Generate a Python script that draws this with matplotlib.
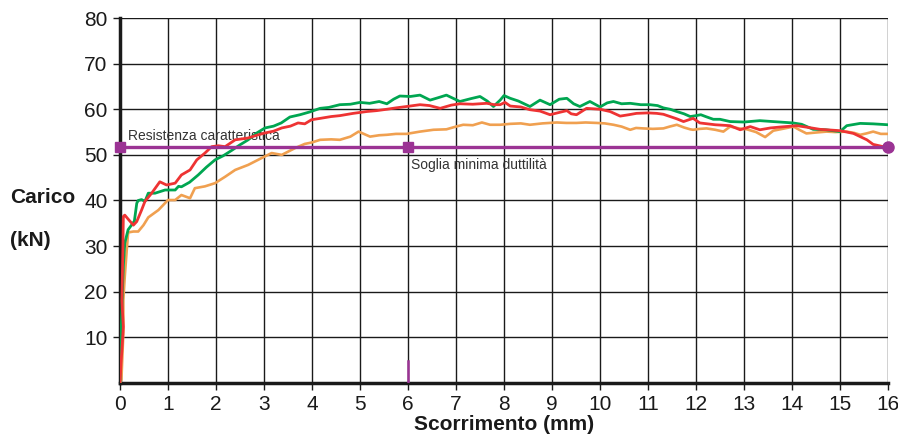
import numpy as np
import matplotlib.pyplot as plt

plt.rcParams['font.family'] = ['Liberation Sans', 'DejaVu Sans']

# curva verde
green_x = [0, 0.01, 0.03, 0.05, 0.07, 0.10, 0.17, 0.24, 0.30, 0.35,
           0.38, 0.45, 0.52, 0.59, 0.73, 0.94, 1.15, 1.22, 1.28, 1.45,
           1.63, 1.80, 1.98, 2.15, 2.33, 2.50, 2.67, 2.85, 3.02, 3.20,
           3.36, 3.54, 3.75, 3.95, 4.17, 4.35, 4.58, 4.80, 5.00, 5.20,
           5.40, 5.56, 5.70, 5.83, 6.05, 6.25, 6.46, 6.65, 6.80, 7.08,
           7.30, 7.50, 7.65, 7.78, 7.92, 8.00, 8.13, 8.30, 8.54, 8.75,
           8.96, 9.15, 9.31, 9.45, 9.58, 9.79, 10.00, 10.15, 10.28, 10.45,
           10.63, 10.85, 11.04, 11.20, 11.32, 11.46, 11.60, 11.75, 11.88, 12.00,
           12.10, 12.20, 12.36, 12.50, 12.71, 13.00, 13.33, 13.60, 14.02, 14.20,
           14.44, 14.70, 15.00, 15.14, 15.42, 15.69, 16.00]
green_y = [0, 5, 13, 20, 25.5, 30.7, 33.6, 34.6, 35.5, 39.4,
           40.0, 40.2, 39.8, 41.6, 41.6, 42.3, 42.3, 43.1, 43.0, 44.0,
           45.6, 47.3, 48.9, 49.8, 51.0, 52.2, 53.3, 54.8, 55.9, 56.3,
           57.0, 58.3, 58.8, 59.4, 60.2, 60.4, 61.0, 61.1, 61.5, 61.3,
           61.7, 61.2, 62.2, 62.9, 62.8, 63.1, 62.0, 62.6, 63.1, 61.7,
           62.3, 62.8, 61.8, 60.6, 62.0, 63.0, 62.4, 61.8, 60.6, 62.0,
           61.0, 62.2, 62.4, 61.2, 60.6, 61.7, 60.5, 61.4, 61.7, 61.2,
           61.3, 61.0, 61.0, 60.8, 60.3, 60.0, 59.5, 59.0, 58.4, 58.6,
           58.8, 58.4, 57.8, 57.8, 57.3, 57.2, 57.5, 57.3, 57.0, 56.7,
           55.6, 55.5, 55.1, 56.4, 56.9, 56.8, 56.6]

# curva rossa
red_x = [0.00, 0.02, 0.04, 0.07, 0.04, 0.06, 0.07, 0.10, 0.18, 0.28,
         0.35, 0.45, 0.52, 0.66, 0.83, 0.97, 1.15, 1.28, 1.46, 1.60,
         1.77, 1.91, 2.05, 2.19, 2.40, 2.67, 2.85, 3.02, 3.20, 3.37,
         3.55, 3.71, 3.85, 3.99, 4.17, 4.40, 4.58, 4.86, 5.14, 5.35,
         5.56, 5.75, 5.97, 6.25, 6.45, 6.67, 6.90, 7.08, 7.35, 7.64,
         7.80, 7.92, 8.02, 8.13, 8.35, 8.54, 8.75, 8.96, 9.15, 9.31,
         9.40, 9.51, 9.72, 10.00, 10.21, 10.42, 10.60, 10.76, 11.00, 11.18,
         11.32, 11.46, 11.60, 11.74, 11.88, 11.94, 12.08, 12.40, 12.71, 12.92,
         13.13, 13.33, 13.55, 13.75, 14.10, 14.35, 14.58, 15.00, 15.28, 15.42,
         15.56, 15.69, 15.90, 16.00]
red_y = [0.0, 4.0, 7.2, 12.3, 18.0, 29.0, 36.5, 36.8, 35.8, 34.6,
         35.4, 37.9, 39.8, 41.6, 44.1, 43.4, 43.8, 45.6, 46.7, 48.9,
         50.4, 51.8, 52.0, 51.8, 53.3, 53.7, 54.3, 54.8, 55.2, 55.9,
         56.3, 57.0, 56.8, 57.7, 58.0, 58.4, 58.6, 59.1, 59.5, 59.7,
         60.0, 60.3, 60.6, 61.0, 60.8, 60.2, 60.9, 61.2, 61.1, 61.3,
         61.0, 61.0, 61.5, 60.7, 60.5, 59.9, 59.6, 58.8, 59.3, 59.7,
         59.0, 58.8, 60.2, 60.0, 59.5, 58.5, 58.8, 59.1, 59.2, 59.1,
         58.9, 58.4, 57.9, 57.3, 57.8, 58.0, 57.0, 56.6, 56.4, 55.5,
         56.2, 55.5, 55.9, 56.1, 56.4, 56.0, 55.6, 55.3, 54.7, 54.0,
         53.3, 52.3, 51.8, 50.7]

# curva arancione
orange_x = [0.00, 0.03, 0.07, 0.07, 0.10, 0.14, 0.17, 0.28, 0.38, 0.49,
            0.59, 0.80, 1.00, 1.15, 1.28, 1.46, 1.56, 1.77, 1.98, 2.19,
            2.40, 2.67, 2.95, 3.16, 3.37, 3.65, 3.85, 3.99, 4.17, 4.40,
            4.58, 4.80, 4.97, 5.21, 5.40, 5.56, 5.75, 5.97, 6.25, 6.53,
            6.80, 7.00, 7.15, 7.35, 7.54, 7.71, 7.92, 8.13, 8.35, 8.54,
            8.80, 9.10, 9.30, 9.51, 9.70, 9.93, 10.10, 10.28, 10.45, 10.63,
            10.75, 10.90, 11.10, 11.32, 11.45, 11.60, 11.75, 11.88, 11.94, 12.08,
            12.22, 12.40, 12.57, 12.71, 12.90, 13.06, 13.25, 13.44, 13.61, 13.80,
            14.03, 14.15, 14.30, 14.50, 14.72, 14.90, 15.14, 15.30, 15.42, 15.55,
            15.69, 15.85, 16.00]
orange_y = [0.0, 0.7, 11.0, 18.2, 23.3, 29.0, 33.0, 33.2, 33.2, 34.6,
            36.3, 37.9, 40.1, 40.1, 41.2, 40.5, 42.7, 43.1, 43.8, 45.2,
            46.7, 47.8, 49.3, 50.4, 50.0, 51.5, 52.4, 52.7, 53.3, 53.4,
            53.3, 54.0, 55.1, 54.0, 54.3, 54.4, 54.6, 54.6, 55.1, 55.5,
            55.6, 56.2, 56.6, 56.5, 57.1, 56.6, 56.6, 56.8, 56.9, 56.6,
            56.9, 57.1, 57.0, 57.0, 57.1, 57.0, 56.9, 56.6, 56.2, 55.5,
            55.9, 55.8, 55.7, 55.8, 56.2, 56.6, 56.0, 55.6, 55.5, 55.7,
            55.8, 55.5, 55.1, 56.2, 55.8, 55.6, 55.0, 53.9, 55.3, 55.7,
            56.2, 55.5, 54.7, 54.9, 55.1, 55.0, 55.1, 54.8, 54.4, 54.7,
            55.1, 54.6, 54.6]

soglia = 51.7
soglia_x = [0, 6, 16]
x_ticks = list(range(0, 17))
y_ticks = list(range(10, 90, 10))

fig = plt.figure(figsize=(8.98, 4.37), dpi=100)
ax = fig.add_axes([0.1336, 0.1236, 0.8553, 0.8352])

ax.set_xlim(0, 16)
ax.set_ylim(0, 80)
ax.set_xticks(x_ticks)
ax.set_yticks(y_ticks)
for v in x_ticks[1:]:
    ax.axvline(v, color='#1a1a1a', lw=1.0, zorder=1)
for v in y_ticks:
    ax.axhline(v, color='#1a1a1a', lw=1.0, zorder=1)

ax.plot(orange_x, orange_y, color='#F0A050', lw=1.9, zorder=3)
ax.plot(green_x, green_y, color='#00A651', lw=2.0, zorder=4)
ax.plot(red_x, red_y, color='#EE3333', lw=2.0, zorder=5)

purple = '#9B3394'
ax.plot([0, 16], [soglia, soglia], color=purple, lw=2.4, zorder=6)
ax.plot(soglia_x[:2], [soglia, soglia], 's', color=purple, ms=6.5, zorder=7, clip_on=False)
ax.plot(soglia_x[2], soglia, 'o', color=purple, ms=8, zorder=7, clip_on=False)
ax.plot([6, 6], [0, 4.8], color=purple, lw=1.8, zorder=6)

ax.text(0.17, 53.3, 'Resistenza caratteristica', fontsize=10, color='#333333', zorder=2)
ax.text(6.07, 47.0, 'Soglia minima duttilità', fontsize=10, color='#333333', zorder=2)

for s in ['top', 'right']:
    ax.spines[s].set_visible(False)
for s in ['left', 'bottom']:
    ax.spines[s].set_linewidth(2.5)
    ax.spines[s].set_color('#1a1a1a')
ax.tick_params(axis='both', direction='out', length=5, width=1, labelsize=15,
               colors='#1a1a1a', pad=4)

ax.set_xlabel('Scorrimento (mm)', fontsize=15, fontweight='bold', color='#1a1a1a')
ax.xaxis.set_label_coords(0.5, -0.088)
fig.text(0.011, 0.548, 'Carico', fontsize=15, fontweight='bold', color='#1a1a1a', va='center')
fig.text(0.011, 0.449, '(kN)', fontsize=15, fontweight='bold', color='#1a1a1a', va='center')

fig.savefig('out.png', dpi=100)
